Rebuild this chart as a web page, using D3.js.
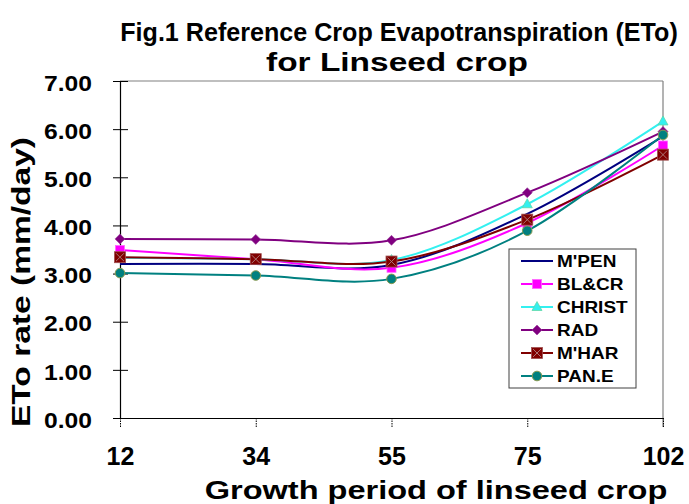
<!DOCTYPE html>
<html><head><meta charset="utf-8">
<script src="https://cdn.jsdelivr.net/npm/d3@7"></script>
<style>body{margin:0;background:#fff}svg{display:block}text{font-family:Arial,"Liberation Sans",sans-serif;font-weight:bold;fill:#000}</style>
</head><body>
<svg id="c" width="689" height="504"></svg>
<script>
const categories = ["12","34","55","75","102"];
const seriesNames = ["M'PEN","BL&CR","CHRIST","RAD","M'HAR","PAN.E"];
const mpen   = [3.20, 3.20, 3.18, 4.24, 5.85];
const blcr   = [3.49, 3.30, 3.12, 4.05, 5.66];
const christ = [3.33, 3.30, 3.28, 4.44, 6.16];
const rad    = [3.72, 3.71, 3.69, 4.68, 5.95];
const mhar   = [3.34, 3.30, 3.25, 4.12, 5.47];
const pane   = [3.01, 2.96, 2.89, 3.89, 5.88];
const yTicks = [0,1,2,3,4,5,6,7];
const titleLines = ["Fig.1 Reference Crop Evapotranspiration (ETo)", "for Linseed crop"];
const xTitle = "Growth period of linseed crop";
const yTitle = "ETo rate (mm/day)";

const seriesValues = [mpen, blcr, christ, rad, mhar, pane];
const styles = [
  {color:"#000080", marker:"none"},
  {color:"#ff00ff", marker:"square"},
  {color:"#33f0f0", marker:"triangle"},
  {color:"#800080", marker:"diamond"},
  {color:"#800000", marker:"xsquare"},
  {color:"#008080", marker:"circle"}
];

const svg = d3.select("#c");
const L=120, R=663, T=81, B=418;
const x = d3.scalePoint().domain(categories).range([L,R]);
const y = d3.scaleLinear().domain([0,7]).range([B,T]);

svg.append("line").attr("x1",L).attr("x2",R).attr("y1",T).attr("y2",T).attr("stroke","#808080").attr("stroke-width",1.2);
svg.append("line").attr("x1",R).attr("x2",R).attr("y1",T).attr("y2",B+9).attr("stroke","#808080").attr("stroke-width",1.2);

const ya = svg.append("g").attr("transform",`translate(${L},0)`)
  .call(d3.axisLeft(y).tickValues(yTicks).tickFormat(d3.format(".2f")).tickSize(7).tickPadding(22));
ya.select(".domain").attr("stroke","#000").attr("stroke-width",1.2);
ya.selectAll(".tick line").attr("x1",-7).attr("x2",8).attr("stroke","#000");
ya.selectAll(".tick text").attr("font-size",22).attr("dy","0.42em").attr("x",-28).style("font-family","Arial,'Liberation Sans',sans-serif").style("font-weight","bold")
  .each(function(){ const w=this.getComputedTextLength(); d3.select(this).attr("textLength",w*1.12).attr("lengthAdjust","spacingAndGlyphs"); });

const xa = svg.append("g").attr("transform",`translate(0,${B})`)
  .call(d3.axisBottom(x).tickSize(9).tickSizeOuter(0).tickPadding(20));
xa.select(".domain").attr("stroke","#000").attr("stroke-width",1.2);
xa.selectAll(".tick line").attr("stroke","#000").attr("stroke-dasharray","1.5,1");
xa.selectAll(".tick text").attr("font-size",25).attr("y",47).attr("dy",0).style("font-family","Arial,'Liberation Sans',sans-serif").style("font-weight","bold");

// fitted text: scale horizontally to a target width
function fitText(str, cx, cy, size, width){
  const t = svg.append("text").attr("text-anchor","middle").attr("font-size",size).text(str);
  const w = t.node().getComputedTextLength();
  t.attr("transform",`translate(${cx},${cy}) scale(${width/w},1)`);
  return t;
}
fitText(titleLines[0], 399, 41, 26, 558);
fitText(titleLines[1], 397, 71, 26, 262);
fitText(xTitle, 436, 499, 26, 463);
svg.append("text").attr("transform","translate(30,282) rotate(-90)").attr("text-anchor","middle").attr("font-size",25)
  .attr("textLength",290).attr("lengthAdjust","spacingAndGlyphs").text(yTitle);

function drawMarker(g, type, color, cx, cy){
  if(type==="square"){
    g.append("rect").attr("x",cx-4.5).attr("y",cy-4.5).attr("width",9).attr("height",9).attr("fill",color).attr("stroke","#ff66ff").attr("stroke-width",0.8);
  } else if(type==="triangle"){
    g.append("path").attr("d",`M${cx},${cy-5.5}L${cx+5},${cy+3.5}L${cx-5},${cy+3.5}Z`).attr("fill",color).attr("stroke","#5fd8a8").attr("stroke-width",0.8);
  } else if(type==="diamond"){
    g.append("path").attr("d",`M${cx},${cy-5}L${cx+5},${cy}L${cx},${cy+5}L${cx-5},${cy}Z`).attr("fill",color).attr("stroke","#9a409a").attr("stroke-width",0.6);
  } else if(type==="xsquare"){
    g.append("rect").attr("x",cx-5.5).attr("y",cy-5.5).attr("width",11).attr("height",11).attr("fill",color).attr("stroke","#a05050").attr("stroke-width",0.8);
    g.append("path").attr("d",`M${cx-4},${cy-4}L${cx+4},${cy+4}M${cx+4},${cy-4}L${cx-4},${cy+4}`).attr("stroke","#b08080").attr("stroke-width",0.9);
  } else if(type==="circle"){
    g.append("circle").attr("cx",cx).attr("cy",cy).attr("r",4.8).attr("fill",color).attr("stroke","#8a9a50").attr("stroke-width",1);
  }
}

const line = d3.line().x((d,i)=>x(categories[i])).y(d=>y(d)).curve(d3.curveCardinal.tension(0));
seriesValues.forEach((vals,si)=>{
  svg.append("path").datum(vals).attr("d",line).attr("fill","none").attr("stroke",styles[si].color).attr("stroke-width",2);
});
seriesValues.forEach((vals,si)=>{
  const g = svg.append("g");
  vals.forEach((v,i)=>drawMarker(g, styles[si].marker, styles[si].color, x(categories[i]), y(v)));
});

const lg = svg.append("g");
lg.append("rect").attr("x",509).attr("y",249).attr("width",127).attr("height",139).attr("fill","#fff").attr("stroke","#404040").attr("stroke-width",1);
seriesNames.forEach((name,i)=>{
  const cy = 261 + i*23;
  const st = styles[i];
  lg.append("line").attr("x1",521).attr("x2",553).attr("y1",cy).attr("y2",cy).attr("stroke",st.color).attr("stroke-width",2);
  drawMarker(lg, st.marker, st.color, 537, cy);
  lg.append("text").attr("x",557).attr("y",cy+6).attr("font-size",16.5).text(name)
    .each(function(){ const w=this.getComputedTextLength(); d3.select(this).attr("textLength",w*1.15).attr("lengthAdjust","spacingAndGlyphs"); });
});
</script>
</body></html>
